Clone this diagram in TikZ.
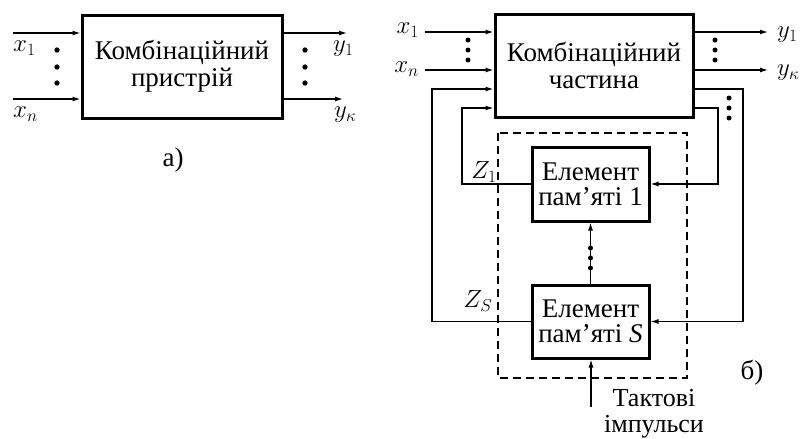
\documentclass[tikz,border=0pt]{standalone}
\usepackage{fontspec}
\setmainfont{Liberation Serif}
\usetikzlibrary{arrows.meta,calc}
\tikzset{
  unit/.style={draw,line width=3pt,minimum width=#1,inner sep=0pt,align=center},
  arr/.style={-{Latex[length=8pt,width=5pt]},line width=1.2pt},
  lbl/.style={inner sep=0pt,font=\fontsize{25}{27}\selectfont}
}
\begin{document}
\begin{tikzpicture}[x=1pt,y=-1pt,font=\fontsize{27}{27}\selectfont]
\useasboundingbox (0,0) rectangle (806,439);
%
% a) combinational device
\node[unit=200,minimum height=103] (combA) at (182,66.5) {Комбінаційний\\пристрій};
\coordinate (ax1) at (13,33);
\coordinate (axn) at (13,99);
\coordinate (ay1) at (347,33);
\coordinate (ayk) at (343,99);
\draw[arr] (ax1) -- (ax1 -| combA.west);
\draw[arr] (axn) -- (axn -| combA.west);
\draw[arr] (ay1 -| combA.east) -- (ay1);
\draw[arr] (ayk -| combA.east) -- (ayk);
\foreach \y in {50,67,83} {
  \fill (57,\y) circle (2.7);
  \fill (305,\y) circle (2.7);
}
\node[lbl,anchor=north west] (ax1l) at ([yshift=-8]ax1) {$x_1$};
\node[lbl,anchor=north west] (axnl) at ([yshift=-8]axn) {$x_n$};
\node[lbl,anchor=north west] (ay1l) at ([xshift=-14,yshift=-8]ay1) {$y_1$};
\node[lbl,anchor=north west] (aykl) at ([xshift=-9,yshift=-8]ayk) {$y_\kappa$};
\node (capA) at (173,160) {а)};
%
% b) sequential device
\node[unit=198,minimum height=103] (combB) at (594,65.5) {Комбінаційний\\частина};
\node[unit=117,minimum height=74,font=\fontsize{27}{25}\selectfont] (mem1) at (590.5,184) {Елемент\\пам’яті 1};
\node[unit=117,minimum height=73,font=\fontsize{27}{25}\selectfont] (memS) at (590.5,321.5) {Елемент\\пам’яті \textit{S}};
\draw[line width=1.4pt,dash pattern=on 8pt off 5pt] (498,133) rectangle (687,378);
%
% inputs and outputs
\coordinate (bx1) at (425,32);
\coordinate (bxn) at (425,70);
\coordinate (by1) at (768,32);
\coordinate (byk) at (768,70);
\draw[arr] (bx1) -- (bx1 -| combB.west);
\draw[arr] (bxn) -- (bxn -| combB.west);
\draw[arr] (by1 -| combB.east) -- (by1);
\draw[arr] (byk -| combB.east) -- (byk);
\node[lbl,left=6pt] (bx1l) at ([yshift=2]bx1) {$x_1$};
\node[lbl,left=6pt] (bxnl) at ([yshift=1]bxn) {$x_n$};
\node[lbl,right=9pt] (by1l) at ([yshift=-3]by1) {$y_1$};
\node[lbl,right=9pt] (bykl) at ([yshift=-3]byk) {$y_\kappa$};
\foreach \y in {40,50,60} {
  \fill (468,\y) circle (2.5);
  \fill (715,\y) circle (2.5);
}
\foreach \y in {98,108,118} \fill (729,\y) circle (2.5);
%
% feedback
\coordinate (lzs) at (432,89);
\coordinate (lz1) at (462,108);
\coordinate (rzs) at (743,89);
\coordinate (rz1) at (718,108);
\draw[arr] (mem1.west) -| (lz1) -- (lz1 -| combB.west);
\draw[arr] (memS.west) -| (lzs) -- (lzs -| combB.west);
\draw[arr] (rz1 -| combB.east) -- (rz1) |- (mem1.east);
\draw[arr] (rzs -| combB.east) -- (rzs) |- (memS.east);
\node[lbl] (z1l) at (484,172) {$Z_1$};
\node[lbl] (zsl) at (478,301) {$Z_S$};
%
% memory chain and clock
\draw[arr] (memS.north) -- (mem1.south);
\foreach \y in {248,258,268} \fill (memS.north |- 0,\y) circle (2.5);
\coordinate (clk) at (591,407);
\draw[arr] (clk) -- (clk |- memS.south);
\node[align=center,anchor=north,inner sep=0pt,font=\fontsize{26}{26}\selectfont] (clkl) at (654,389) {Тактові\\імпульси};
\node (capB) at (752,373) {б)};
\end{tikzpicture}
\end{document}
